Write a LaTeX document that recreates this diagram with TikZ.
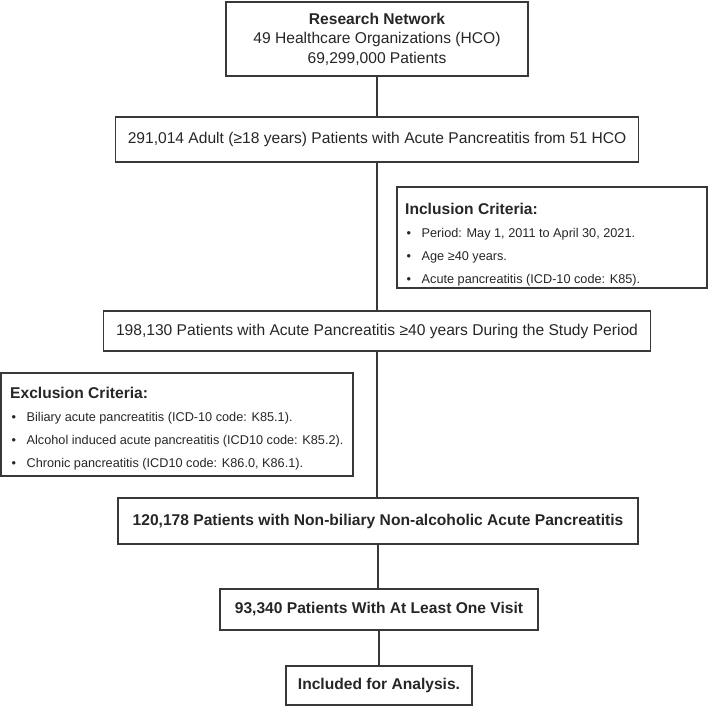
\documentclass[tikz,border=0pt]{standalone}
\usepackage{fontspec}
\setmainfont{Liberation Sans}
\newcommand\critbul{\makebox[16.5pt][l]{\hspace{1.5pt}•}}
\tikzset{
  box/.style={draw=black!78, line width=1.3pt, inner sep=0pt, align=center,
    text=black!85, font=\fontsize{15.6}{19.5}\selectfont},
  boldbox/.style={box, font=\fontsize{15.6}{19.5}\selectfont\bfseries},
  critbox/.style={draw=black!78, line width=1.3pt, inner sep=0pt},
  crittext/.style={anchor=north west, inner sep=0pt, align=left, text=black!85,
    font=\fontsize{12.7}{23.2}\selectfont},
  link/.style={draw=black!78, line width=1.3pt}
}
\begin{document}
\begin{tikzpicture}[x=1pt,y=-1pt]
\useasboundingbox (0,0) rectangle (709,707);
\node[box, minimum width=302, minimum height=74] (n1) at (377,39)
  {\textbf{Research Network}\\49 Healthcare Organizations (HCO)\\69,299,000 Patients};
\node[box, minimum width=523, minimum height=45] (n2) at (377,139.5)
  {291,014 Adult (≥18 years) Patients with Acute Pancreatitis from 51 HCO};
\node[critbox, minimum width=310, minimum height=101] (inc) at (552,237.5) {};
\node[crittext] (inctext) at (405,202.5)
  {{\fontsize{15.6}{19}\selectfont\bfseries Inclusion Criteria:}\\
   \critbul Period: May 1, 2011 to April 30, 2021.\\
   \critbul Age ≥40 years.\\
   \critbul Acute pancreatitis (ICD-10 code: K85).};
\node[box, minimum width=547, minimum height=40] (n3) at (377,331)
  {198,130 Patients with Acute Pancreatitis ≥40 years During the Study Period};
\node[critbox, minimum width=352, minimum height=103] (exc) at (177,424.5) {};
\node[crittext] (exctext) at (10,386.5)
  {{\fontsize{15.6}{19}\selectfont\bfseries Exclusion Criteria:}\\
   \critbul Biliary acute pancreatitis (ICD-10 code: K85.1).\\
   \critbul Alcohol induced acute pancreatitis (ICD10 code: K85.2).\\
   \critbul Chronic pancreatitis (ICD10 code: K86.0, K86.1).};
\node[boldbox, minimum width=520, minimum height=46] (n4) at (378,521)
  {120,178 Patients with Non-biliary Non-alcoholic Acute Pancreatitis};
\node[boldbox, minimum width=318, minimum height=41] (n5) at (379,609.5)
  {93,340 Patients With At Least One Visit};
\node[boldbox, minimum width=186, minimum height=39] (n6) at (379,685.5)
  {Included for Analysis.};
\draw[link] (n1.south) -- (n1.south |- n2.north);
\draw[link] (n2.south) -- (n2.south |- n3.north);
\draw[link] (n3.south) -- (n3.south |- n4.north);
\draw[link] (n4.south) -- (n4.south |- n5.north);
\draw[link] (n5.south) -- (n5.south |- n6.north);
\end{tikzpicture}
\end{document}
